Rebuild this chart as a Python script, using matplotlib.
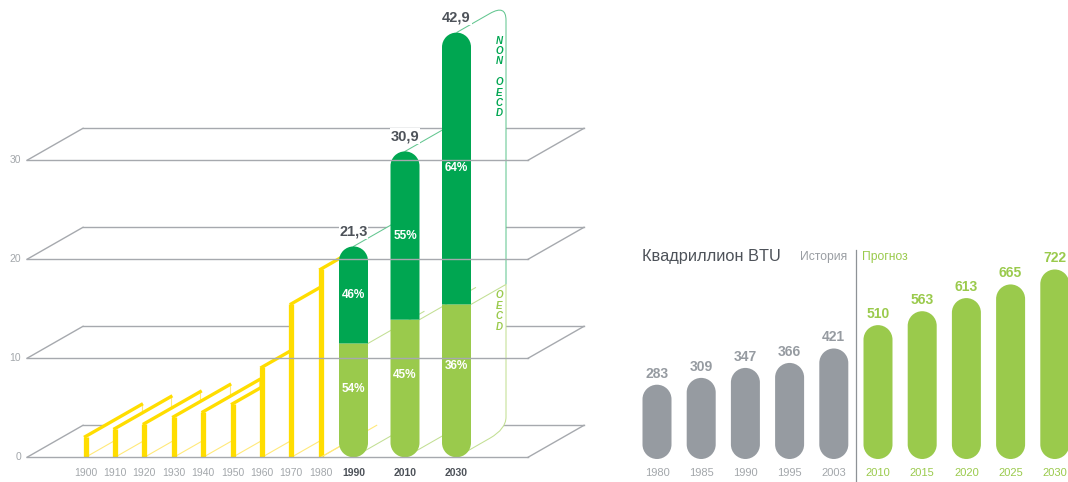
import numpy as np
import matplotlib
matplotlib.use("Agg")
import matplotlib.pyplot as plt
from matplotlib.patches import Polygon, PathPatch
from matplotlib.path import Path

plt.rcParams['font.family'] = ['Liberation Sans', 'DejaVu Sans']

# ---- data: left chart (3D style) ----
decades = ['1900', '1910', '1920', '1930', '1940', '1950', '1960', '1970', '1980']
decade_vals = [2.1, 2.9, 3.4, 4.1, 4.6, 5.4, 9.1, 15.5, 19.0]
future_years = ['1990', '2010', '2030']
future_totals = [21.3, 30.9, 42.9]
future_total_labels = ['21,3', '30,9', '42,9']
oecd_share = [54, 45, 36]
non_oecd_share = [46, 55, 64]
y_ticks = [0, 10, 20, 30]

# ---- data: right chart ----
btu_years = ['1980', '1985', '1990', '1995', '2003', '2010', '2015', '2020', '2025', '2030']
btu_vals = [283, 309, 347, 366, 421, 510, 563, 613, 665, 722]
n_history = 5

# colours
YEL = '#ffdd00'
YEL_LIGHT = '#ffe97a'
DGREEN = '#00a651'
LGREEN = '#9aca4c'
GRID = '#a6a9ae'
GRAYBAR = '#969ba1'
DARKTXT = '#4d5259'
LIGHTTXT = '#a3a7ab'
OUT_DARK = '#63c690'
OUT_LIGHT = '#c2df93'

W, H = 1068, 482


def pill(ax, x, y0, y1, hw, ry, color, round_bottom=True, round_top=True, z=5):
    """Bar segment with optional rounded ends (hw, ry are radii in data units)."""
    verts, codes = [], []
    if round_bottom:
        arc = Path.arc(180, 360)
        verts += list(arc.vertices * [hw, ry] + [x, y0 + ry])
        codes += list(arc.codes)
    else:
        verts += [(x - hw, y0), (x + hw, y0)]
        codes += [Path.MOVETO, Path.LINETO]
    if round_top:
        arc = Path.arc(0, 180)
        v = list(arc.vertices * [hw, ry] + [x, y1 - ry])
        c = list(arc.codes)
        c[0] = Path.LINETO
        verts += v
        codes += c
    else:
        verts += [(x + hw, y1), (x - hw, y1)]
        codes += [Path.LINETO, Path.LINETO]
    verts.append(verts[0])
    codes.append(Path.CLOSEPOLY)
    ax.add_patch(PathPatch(Path(np.array(verts), codes), fc=color, ec='none', zorder=z))


fig = plt.figure(figsize=(W / 100, H / 100), dpi=100)
fig.patch.set_facecolor('white')

# ---------------- left chart ----------------
axl = fig.add_axes([0, 0, 600 / W, 1])
axl.set_xlim(0, 600)
y0_px, ppu_l = 457.3, 9.9
axl.set_ylim((y0_px - H) / ppu_l, y0_px / ppu_l)
axl.axis('off')

DX = 56                 # depth offset, x units
dy = 32 / ppu_l         # depth offset, y units
gx0, gx1 = 27, 528

for lv in y_ticks:
    axl.plot([gx0, gx1], [lv, lv], color=GRID, lw=1.0, zorder=6)
    axl.plot([gx0 + DX, gx1 + DX], [lv + dy, lv + dy], color=GRID, lw=1.0, zorder=1)
    axl.plot([gx0, gx0 + DX], [lv, lv + dy], color=GRID, lw=1.0, zorder=1)
    axl.plot([gx1, gx1 + DX], [lv, lv + dy], color=GRID, lw=1.0, zorder=1)
    axl.text(21, lv, str(lv), ha='right', va='center', fontsize=7.5, color=LIGHTTXT)

# yellow "planes"
yx = [85.5 + 29.4 * i for i in range(len(decades))]
for i, (x, h) in enumerate(zip(yx, decade_vals)):
    z = 2 + i * 0.1
    axl.add_patch(Polygon([(x, 0), (x, h), (x + DX, h + dy), (x + DX, dy)],
                          closed=True, fc='white', ec='none', zorder=z))
    axl.plot([x + DX, x + DX], [dy, h + dy], color=YEL_LIGHT, lw=0.8, zorder=z + 0.01)
    axl.plot([x, x + DX], [0, dy], color=YEL_LIGHT, lw=0.8, zorder=z + 0.01)
    axl.plot([x, x + DX], [h, h + dy], color=YEL, lw=2.4, zorder=z + 0.02)
    axl.plot([x, x], [0, h], color=YEL, lw=3.8, zorder=z + 0.03, solid_capstyle='butt')
    axl.text(x, -1.6, decades[i], ha='center', va='center', fontsize=7.5, color=LIGHTTXT)

# stacked green bars + side profile
gx = [353.5 + 51.5 * j for j in range(len(future_years))]
hw = 14.5
r = hw / ppu_l
splits = [t * o / 100 for t, o in zip(future_totals, oecd_share)]

XR = gx[-1] + 49.5
T0, T1, T2 = future_totals


def depth_y(y_start, x_start, x):
    return y_start + (x - x_start) / DX * dy


top_a = (XR - 16, depth_y(T2, gx[2], XR - 16))
top_c = (XR, depth_y(T2, gx[2], XR))
top_b = (XR, top_c[1] - 1.6)
bot_c = (XR, depth_y(0, gx[2], XR))
bot_b = (XR, bot_c[1] + 1.2)
bot_a = (XR - 16, depth_y(0, gx[2], XR - 16))
split_r = (XR, depth_y(splits[2], gx[2] + hw, XR))

side = Path([(gx[0], 0), (gx[0], T0), (gx[0] + DX, T0 + dy), (gx[1], T1),
             (gx[1] + DX, T1 + dy), (gx[2], T2), top_a, top_c, top_b,
             bot_b, bot_c, bot_a, (gx[2], 0), (gx[0], 0)],
            [Path.MOVETO, Path.LINETO, Path.LINETO, Path.LINETO, Path.LINETO,
             Path.LINETO, Path.LINETO, Path.CURVE3, Path.CURVE3, Path.LINETO,
             Path.CURVE3, Path.CURVE3, Path.LINETO, Path.CLOSEPOLY])
axl.add_patch(PathPatch(side, fc='white', ec='none', zorder=3.5))

for j in range(2):
    axl.plot([gx[j], gx[j] + DX], [future_totals[j], future_totals[j] + dy],
             color=OUT_DARK, lw=0.75, zorder=3.6)
    axl.plot([gx[j] + hw, gx[j] + hw + DX], [splits[j], splits[j] + dy],
             color=OUT_LIGHT, lw=0.75, zorder=3.6)
    axl.plot([gx[j], gx[j] + DX], [0, dy], color=OUT_LIGHT, lw=0.75, zorder=3.6)
axl.plot([yx[-1], yx[-1] + DX], [0, dy], color=YEL_LIGHT, lw=0.8, zorder=3.6)

top_outline = Path([(gx[2], T2), top_a, top_c, top_b, split_r],
                   [Path.MOVETO, Path.LINETO, Path.CURVE3, Path.CURVE3, Path.LINETO])
axl.add_patch(PathPatch(top_outline, fc='none', ec=OUT_DARK, lw=0.75, zorder=3.6))
bot_outline = Path([(gx[2] + hw, splits[2]), split_r, bot_b, bot_c, bot_a, (gx[2], 0)],
                   [Path.MOVETO, Path.LINETO, Path.LINETO, Path.CURVE3, Path.CURVE3, Path.LINETO])
axl.add_patch(PathPatch(bot_outline, fc='none', ec=OUT_LIGHT, lw=0.75, zorder=3.6))

for j, x in enumerate(gx):
    v, s = future_totals[j], splits[j]
    pill(axl, x, 0, s, hw, r, LGREEN, round_top=False)
    pill(axl, x, s, v, hw, r, DGREEN, round_bottom=False)
    axl.text(x, s * 0.6, f'{oecd_share[j]}%', ha='center', va='center',
             fontsize=8.5, fontweight='bold', color='white', zorder=7)
    axl.text(x, (s + v) / 2, f'{non_oecd_share[j]}%', ha='center', va='center',
             fontsize=8.5, fontweight='bold', color='white', zorder=7)
    axl.annotate(future_total_labels[j], (x, v), xytext=(0, 11), textcoords='offset points',
                 ha='center', va='center', fontsize=10.5, fontweight='bold', color=DARKTXT,
                 zorder=8, bbox=dict(fc='white', ec='none', pad=0.5))
    axl.text(x, -1.6, future_years[j], ha='center', va='center', fontsize=7.5,
             fontweight='bold', color=DARKTXT)

axl.text(XR - 7, (y0_px - 77) / ppu_l, 'N\nO\nN\n\nO\nE\nC\nD', ha='center', va='center',
         fontsize=7, fontweight='bold', fontstyle='italic', color=DGREEN,
         linespacing=1.05, zorder=8)
axl.text(XR - 7, (y0_px - 311) / ppu_l, 'O\nE\nC\nD', ha='center', va='center',
         fontsize=7, fontweight='bold', fontstyle='italic', color=LGREEN,
         linespacing=1.05, zorder=8)

# ---------------- right chart ----------------
axr = fig.add_axes([630 / W, 0, 438 / W, 1])
step = 44.2
axr.set_xlim((630 - 657) / step, (1068 - 657) / step)
base_px, ppu_r = 459, 0.2625
axr.set_ylim((base_px - H) / ppu_r, base_px / ppu_r)
axr.axis('off')

for i, (yr, v) in enumerate(zip(btu_years, btu_vals)):
    col = GRAYBAR if i < n_history else LGREEN
    pill(axr, i, 0, v, 14.5 / step, 14.5 / ppu_r, col)
    axr.annotate(str(v), (i, v), xytext=(0, 8), textcoords='offset points',
                 ha='center', va='center', fontsize=10, fontweight='bold', color=col)
    axr.text(i, (base_px - 473) / ppu_r, yr, ha='center', va='center', fontsize=8,
             color=LIGHTTXT if i < n_history else LGREEN)

axr.axvline(n_history - 0.5, ymin=0, ymax=1 - 250 / H, color='#8e9297', lw=0.9)

fig.text(642 / W, 1 - 257 / H, 'Квадриллион BTU', ha='left', va='center',
         fontsize=11.8, color=DARKTXT)
fig.text(847 / W, 1 - 257 / H, 'История', ha='right', va='center',
         fontsize=8.7, color='#9a9ea3')
fig.text(862 / W, 1 - 257 / H, 'Прогноз', ha='left', va='center',
         fontsize=8.7, color=LGREEN)

fig.savefig('out.png', dpi=100, facecolor='white')
